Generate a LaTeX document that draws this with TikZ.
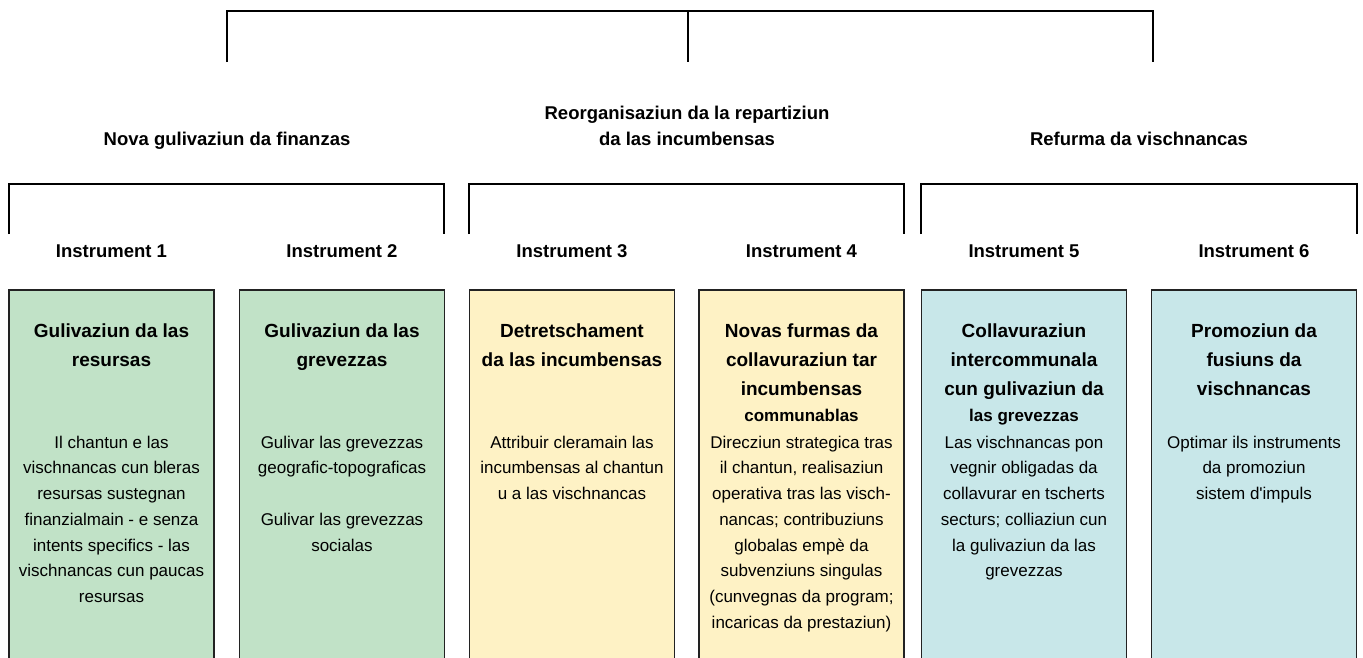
\documentclass[tikz,border=0pt]{standalone}
\usepackage{fontspec}
\setmainfont{Liberation Sans}[Ligatures=TeXOff]
\definecolor{boxgreen}{HTML}{C1E2C7}
\definecolor{boxyellow}{HTML}{FEF2C5}
\definecolor{boxblue}{HTML}{C8E7E9}
\definecolor{edge}{HTML}{222222}
\newcommand{\tstrut}{\rule{0pt}{16pt}}
\newcommand{\bstrut}{\rule{0pt}{15pt}}
\newcommand{\hstrut}{\rule{0pt}{15pt}}
\newcommand{\smallbold}{\fontsize{17}{24}\selectfont}
\tikzset{
  bracket/.style={line width=2pt, black},
  grouphead/.style={font=\bfseries\fontsize{18.5}{26}\selectfont, align=center, inner sep=0pt},
  instr/.style={font=\bfseries\fontsize{18.5}{26}\selectfont, inner sep=0pt, anchor=base},
  panel/.style={draw=edge, line width=1.5pt, minimum width=205pt, minimum height=420pt, anchor=north, inner sep=0pt},
  ptitle/.style={font=\bfseries\fontsize{19}{29}\selectfont, align=center, inner sep=0pt, anchor=north},
  pbody/.style={font=\fontsize{17}{25.7}\selectfont, align=center, inner sep=0pt, anchor=north},
}
\begin{document}
\begin{tikzpicture}[x=1pt, y=-1pt]
\useasboundingbox (0,0) rectangle (1363,657);
\clip (0,0) rectangle (1363,657);

% top bracket
\coordinate (tl) at (227,10.5);
\coordinate (tm) at (688,10.5);
\coordinate (tr) at (1153,10.5);
\coordinate (tlb) at (227,62);
\coordinate (tmb) at (688,62);
\coordinate (trb) at (1153,62);
\draw[bracket] (tlb) -- (tl) -- (tr) -- (trb);
\draw[bracket] (tm) -- (tmb);

% group headings
\node[grouphead, anchor=base] (h1) at (227,145) {Nova gulivaziun da finanzas};
\node[grouphead, anchor=north] (h2) at (687,104) {\hstrut Reorganisaziun da la repartiziun\\da las incumbensas};
\node[grouphead, anchor=base] (h3) at (1139,145) {Refurma da vischnancas};

% group brackets
\coordinate (g1l) at (9,183.5);   \coordinate (g1r) at (444,183.5);
\coordinate (g1lb) at (9,234);    \coordinate (g1rb) at (444,234);
\coordinate (g2l) at (469,183.5); \coordinate (g2r) at (904,183.5);
\coordinate (g2lb) at (469,234);  \coordinate (g2rb) at (904,234);
\coordinate (g3l) at (921,183.5); \coordinate (g3r) at (1357,183.5);
\coordinate (g3lb) at (921,234);  \coordinate (g3rb) at (1357,234);
\draw[bracket] (g1lb) -- (g1l) -- (g1r) -- (g1rb);
\draw[bracket] (g2lb) -- (g2l) -- (g2r) -- (g2rb);
\draw[bracket] (g3lb) -- (g3l) -- (g3r) -- (g3rb);

% panels
\node[panel, fill=boxgreen]  (b1) at (111.5,289) {};
\node[panel, fill=boxgreen]  (b2) at (342,289) {};
\node[panel, fill=boxyellow] (b3) at (572,289) {};
\node[panel, fill=boxyellow] (b4) at (801.5,289) {};
\node[panel, fill=boxblue]   (b5) at (1024,289) {};
\node[panel, fill=boxblue]   (b6) at (1254,289) {};

% instrument labels
\node[instr] (i1) at (111.5,257) {Instrument 1};
\node[instr] (i2) at (342,257) {Instrument 2};
\node[instr] (i3) at (572,257) {Instrument 3};
\node[instr] (i4) at (801.5,257) {Instrument 4};
\node[instr] (i5) at (1024,257) {Instrument 5};
\node[instr] (i6) at (1254,257) {Instrument 6};

% titles
\node[ptitle] (t1) at ([yshift=-32pt]b1.north) {\tstrut Gulivaziun da las\\resursas};
\node[ptitle] (t2) at ([yshift=-32pt]b2.north) {\tstrut Gulivaziun da las\\grevezzas};
\node[ptitle] (t3) at ([yshift=-32pt]b3.north) {\tstrut Detretschament\\da las incumbensas};
\node[ptitle] (t4) at ([yshift=-32pt]b4.north) {\tstrut Novas furmas da\\collavuraziun tar\\incumbensas\\[-2.3pt]{\smallbold communablas}};
\node[ptitle] (t5) at ([yshift=-32pt]b5.north) {\tstrut Collavuraziun\\intercommunala\\cun gulivaziun da\\[-2.3pt]{\smallbold las grevezzas}};
\node[ptitle] (t6) at ([yshift=-32pt]b6.north) {\tstrut Promoziun da\\fusiuns da\\vischnancas};

% bodies
\node[pbody] (d1) at ([yshift=-144pt]b1.north) {\bstrut Il chantun e las\\vischnancas cun bleras\\resursas sustegnan\\finanzialmain - e senza\\intents specifics - las\\vischnancas cun paucas\\resursas};
\node[pbody] (d2) at ([yshift=-144pt]b2.north) {\bstrut Gulivar las grevezzas\\geografic-topograficas\\[25.7pt]Gulivar las grevezzas\\socialas};
\node[pbody] (d3) at ([yshift=-144pt]b3.north) {\bstrut Attribuir cleramain las\\incumbensas al chantun\\u a las vischnancas};
\node[pbody] (d4) at ([yshift=-144pt]b4.north) {\bstrut Direcziun strategica tras\\il chantun, realisaziun\\operativa tras las visch-\\nancas; contribuziuns\\globalas empè da\\subvenziuns singulas\\(cunvegnas da program;\\incaricas da prestaziun)};
\node[pbody] (d5) at ([yshift=-144pt]b5.north) {\bstrut Las vischnancas pon\\vegnir obligadas da\\collavurar en tscherts\\secturs; colliaziun cun\\la gulivaziun da las\\grevezzas};
\node[pbody] (d6) at ([yshift=-144pt]b6.north) {\bstrut Optimar ils instruments\\da promoziun\\sistem d'impuls};
\end{tikzpicture}
\end{document}
